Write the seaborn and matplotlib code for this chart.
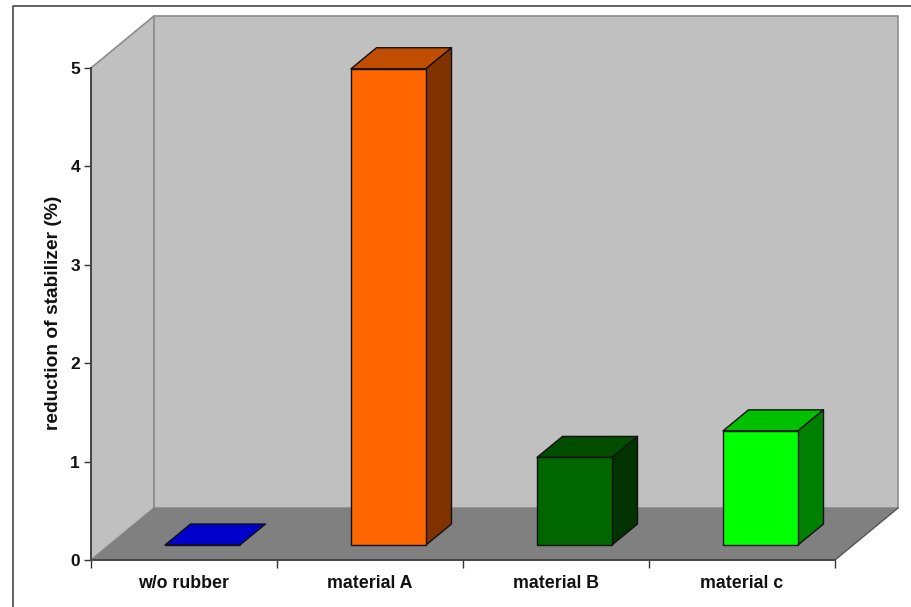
import matplotlib
matplotlib.use("Agg")
import matplotlib.pyplot as plt
from matplotlib.patches import Polygon
from matplotlib.lines import Line2D
import pandas as pd
import seaborn as sns

categories = ["w/o rubber", "material A", "material B", "material c"]
reduction = [0.0, 4.84, 0.89, 1.16]
front_colors = ["#0000CC", "#FF6600", "#006600", "#00FF00"]
top_colors = ["#0000CC", "#C04D00", "#004D00", "#00C000"]
side_colors = ["#0000CC", "#803300", "#003300", "#008000"]
y_ticks = [0, 1, 2, 3, 4, 5]
y_label = "reduction of stabilizer (%)"

W, H = 912, 607
sns.set_theme(style="white")
plt.rcParams["font.family"] = ["Liberation Sans", "DejaVu Sans"]

fig = plt.figure(figsize=(W / 100, H / 100), dpi=100, facecolor="white")


def axes_at(x0, y_bottom, x1, y_top):
    return fig.add_axes([x0 / W, 1 - y_bottom / H, (x1 - x0) / W, (y_bottom - y_top) / H])


# Front plane of the chart box carries the axis ticks and labels
ax = axes_at(91, 560, 835, 68)
ax.set_xlim(-0.5, 3.5)
ax.set_ylim(0, 5)
ax.patch.set_alpha(0)
unit_x = 744 / 4
unit_y = 492 / 5

# Depth of the box and of the bars, in data units of the front plane
box_dx, box_dy = 63 / unit_x, 52 / unit_y
bar_dx, bar_dy = 25.5 / unit_x, 21 / unit_y
shift_x, shift_y = 18.5, 15

wall = "#C0C0C0"
floor = "#808080"
edge = "#8C8C8C"
xl, xr = -0.5, 3.5
ax.add_patch(Polygon([(xl, 0), (xl, 5), (xl + box_dx, 5 + box_dy), (xl + box_dx, box_dy)],
                     facecolor=wall, edgecolor=edge, lw=1.2, clip_on=False, zorder=1))
ax.add_patch(Polygon([(xl + box_dx, box_dy), (xl + box_dx, 5 + box_dy),
                      (xr + box_dx, 5 + box_dy), (xr + box_dx, box_dy)],
                     facecolor=wall, edgecolor=edge, lw=1.2, clip_on=False, zorder=1))
ax.add_patch(Polygon([(xl, 0), (xr, 0), (xr + box_dx, box_dy), (xl + box_dx, box_dy)],
                     facecolor=floor, edgecolor="none", clip_on=False, zorder=2))
ax.add_line(Line2D([xr, xr + box_dx], [0, box_dy], color="#555555", lw=1.0, clip_on=False, zorder=3))

for side in ("top", "right"):
    ax.spines[side].set_visible(False)
for side in ("left", "bottom"):
    ax.spines[side].set_color("#444444")
    ax.spines[side].set_linewidth(1.4)
    ax.spines[side].set_zorder(4)

ax.set_yticks(y_ticks)
ax.set_yticklabels([str(t) for t in y_ticks], fontsize=12.5, fontweight="bold", color="#111111")
ax.set_xticks([-0.5, 0.5, 1.5, 2.5, 3.5])
ax.set_xticklabels([])
ax.tick_params(axis="both", which="major", length=5.4, width=1.0, color="#333333",
               bottom=True, left=True, pad=2.5)
for x, name in zip(range(4), categories):
    ax.annotate(name, (x - 0.002, 0), xytext=(0, -24), textcoords="offset pixels",
                ha="center", va="center", fontsize=12.8, fontweight="bold", color="#111111",
                annotation_clip=False)
fig.text(54 / W, 1 - 312.5 / H, y_label, rotation=90, ha="center", va="center",
         fontsize=13.8, fontweight="bold", color="#111111")

# Bars sit inside the box, so their axes is the front plane pushed back
bar_ax = axes_at(91 + shift_x, 560 - shift_y, 835 + shift_x, 68 - shift_y)
bar_ax.patch.set_alpha(0)
table = pd.DataFrame({"category": categories, "reduction": reduction})
sns.barplot(data=table, x="category", y="reduction", hue="category",
            palette=front_colors, legend=False, width=75 / unit_x, saturation=1,
            edgecolor="#111111", linewidth=1.0, ax=bar_ax, zorder=6, clip_on=False)
bar_ax.set_xlim(-0.5, 3.5)
bar_ax.set_ylim(0, 5)
bar_ax.axis("off")

half = 75 / unit_x / 2
for i, v in enumerate(reduction):
    left, right = i - half, i + half
    outline = dict(edgecolor="#111111", lw=1.0, clip_on=False, zorder=5, joinstyle="round")
    bar_ax.add_patch(Polygon([(left, v), (right, v), (right + bar_dx, v + bar_dy), (left + bar_dx, v + bar_dy)],
                             facecolor=top_colors[i], **outline))
    if v > 0:
        bar_ax.add_patch(Polygon([(right, 0), (right, v), (right + bar_dx, v + bar_dy), (right + bar_dx, bar_dy)],
                                 facecolor=side_colors[i], **outline))

# Outer chart frame along the left and top of the canvas
fig.add_artist(Line2D([13.5 / W, 13.5 / W, 1], [0, 1 - 6 / H, 1 - 6 / H], color="#555555", lw=1.3))

fig.savefig("out.png", dpi=100, facecolor="white")
